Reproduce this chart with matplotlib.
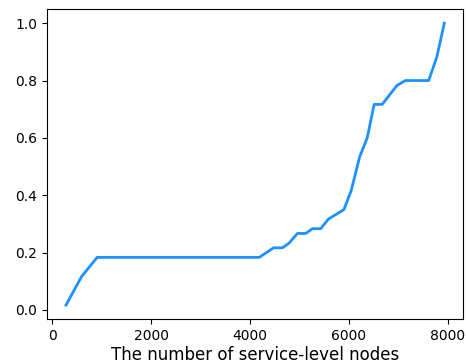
import matplotlib
matplotlib.use("Agg")
import matplotlib.pyplot as plt

# cumulative fraction vs. number of service-level nodes
nodes = [276, 593, 907, 4188, 4476, 4657, 4792, 4960, 5129, 5262, 5431,
         5585, 5901, 6048, 6218, 6371, 6512, 6673, 6976, 7145, 7615, 7782, 7931]
frac = [0.0167, 0.1167, 0.1833, 0.1833, 0.2167, 0.2167, 0.2333, 0.2667,
        0.2667, 0.2833, 0.2833, 0.3167, 0.35, 0.4167, 0.5333, 0.6,
        0.7167, 0.7167, 0.7833, 0.8, 0.8, 0.8833, 1.0]

fig = plt.figure(figsize=(4.66, 3.64), dpi=100)
ax = fig.add_axes([0.101, 0.123, 0.893, 0.852])
ax.plot(nodes, frac, color="dodgerblue", linewidth=2)
ax.set_xlabel("The number of service-level nodes", fontsize=12, labelpad=2)
ax.set_xticks([0, 2000, 4000, 6000, 8000])
ax.set_yticks([0.0, 0.2, 0.4, 0.6, 0.8, 1.0])

fig.savefig("out.png", dpi=100)
